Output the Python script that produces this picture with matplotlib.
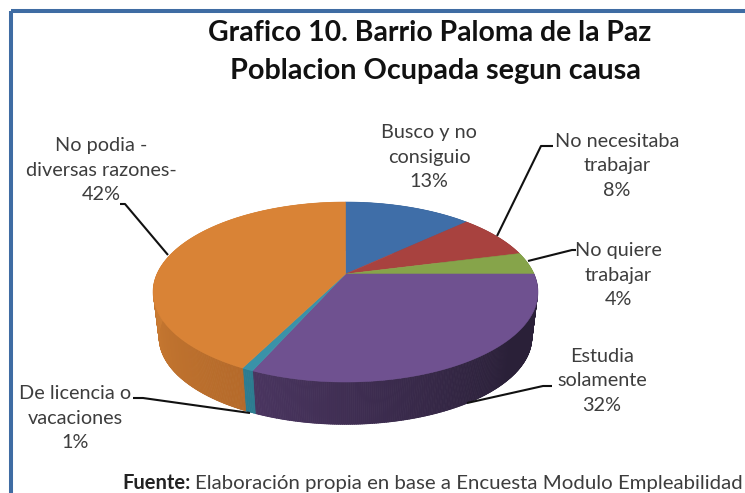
import numpy as np
import matplotlib
matplotlib.use("Agg")
import matplotlib.pyplot as plt
from matplotlib.patches import Rectangle, Polygon

title_lines = ["Grafico 10. Barrio Paloma de la Paz", "Poblacion Ocupada segun causa"]
categories = ["Busco y no\nconsiguio", "No necesitaba\ntrabajar", "No quiere\ntrabajar",
              "Estudia\nsolamente", "De licencia o\nvacaciones", "No podia -\ndiversas razones-"]
percent_labels = ["13%", "8%", "4%", "32%", "1%", "42%"]
shares = [13, 8, 4, 31.6, 0.8, 42.6]
top_colors = ["#3f6ea8", "#a8423f", "#86a44a", "#6f5190", "#3a92a8", "#d98336"]
wall_near = ["#2f5380", "#7e3230", "#658038", "#4a3560", "#2c7c90", "#b56a2a"]
wall_far = ["#2f5380", "#7e3230", "#658038", "#2a2038", "#2c7c90", "#d08035"]

CX, CY, RX, RY, K = 345.5, 274.0, 188.6, 86.4, 0.2
WALL_SCALE, WALL_DROP = 0.97, 46.0


def project(theta_deg, scale=1.0, drop=0.0):
    t = np.radians(theta_deg)
    u, v = np.sin(t), np.cos(t)
    d = 1 + K * v
    return CX + scale * RX * u / d, CY + drop - scale * RY * v / d


def mix(c1, c2, f):
    a = np.array(matplotlib.colors.to_rgb(c1))
    b = np.array(matplotlib.colors.to_rgb(c2))
    return tuple(a + (b - a) * f)


def convex_hull(points):
    pts = sorted(set(map(tuple, points)))

    def half(seq):
        out = []
        for p in seq:
            while len(out) > 1 and ((out[-1][0] - out[-2][0]) * (p[1] - out[-2][1])
                                    - (out[-1][1] - out[-2][1]) * (p[0] - out[-2][0])) <= 0:
                out.pop()
            out.append(p)
        return out[:-1]

    return np.array(half(pts) + half(pts[::-1]))


fig = plt.figure(figsize=(7.45, 4.93), dpi=100)
ax = fig.add_axes([0, 0, 1, 1])
ax.set_xlim(0, 745)
ax.set_ylim(493, 0)
ax.axis("off")

# frame
ax.add_patch(Rectangle((11, 11), 760, 500, fill=False, ec="#3f6ca3", lw=2.9, zorder=1))

edges = np.cumsum([0] + shares) / sum(shares) * 360.0

# silhouette of the whole cylinder, used to keep the shaded strips smooth
ring = np.linspace(0, 360, 721)
hull = convex_hull(np.r_[np.c_[project(ring)], np.c_[project(ring, WALL_SCALE, WALL_DROP)]])
outline = Polygon(hull, closed=True, fc="none", ec="none", transform=ax.transData)
ax.add_patch(outline)

# walls
for i in range(len(shares)):
    a0, a1 = edges[i], edges[i + 1]
    n = max(2, int((a1 - a0) / 0.5))
    th = np.linspace(a0, a1, n + 1)
    for j in range(n):
        if i == 3:
            f = (a1 - th[j]) / (a1 - 130)
        elif i == 5:
            f = (th[j] - a0) / (285 - a0)
        else:
            f = 0.5
        f = float(np.clip(f, 0, 1))
        x0, y0 = project(th[j:j + 2])
        x1, y1 = project(th[j:j + 2], WALL_SCALE, WALL_DROP)
        c = mix(wall_near[i], wall_far[i], f)
        strip = ax.fill(np.r_[x0, x1[::-1]], np.r_[y0, y1[::-1]], color=c, lw=0.6, zorder=2.1)[0]
        strip.set_clip_path(outline)

# top faces
for i in range(len(shares)):
    th = np.linspace(edges[i], edges[i + 1], 120)
    x, y = project(th)
    ax.fill(np.r_[CX, x], np.r_[CY, y], color=top_colors[i], lw=0.4, zorder=3)

# labels
font = "Lato"
ax.text(430, 33, title_lines[0], ha="center", va="center", family="Lato", weight="bold", size=20.4, color="#111111")
ax.text(435, 71, title_lines[1], ha="center", va="center", family="Lato", weight="bold", size=20.7, color="#111111")

label_pos = [(429, 157), (617, 166), (618, 275), (602, 381), (75, 418), (101, 170)]
for name, pct, (x, y) in zip(categories, percent_labels, label_pos):
    ax.text(x, y, f"{name}\n{pct}", ha="center", va="center", family=font, size=14.3,
            color="#3d3d3d", linespacing=1.56)

leaders = [
    ([553, 541, 497], [146, 146, 236]),
    ([576, 572, 528], [250, 250, 261]),
    ([552, 543, 467], [386, 386, 403]),
    ([133, 143, 250], [398, 398, 413]),
    ([120, 125, 168], [204, 204, 255]),
]
for xs, ys in leaders:
    ax.plot(xs, ys, color="#111111", lw=1.5, zorder=4, solid_capstyle="butt")

ax.text(122, 483, "Fuente:", ha="left", va="center", family=font, weight="bold", size=14.5, color="#222222")
ax.text(195, 483, "Elaboración propia en base a Encuesta Modulo Empleabilidad", ha="left", va="center",
        family=font, size=14.7, color="#3d3d3d")

fig.savefig("out.png", dpi=100)
